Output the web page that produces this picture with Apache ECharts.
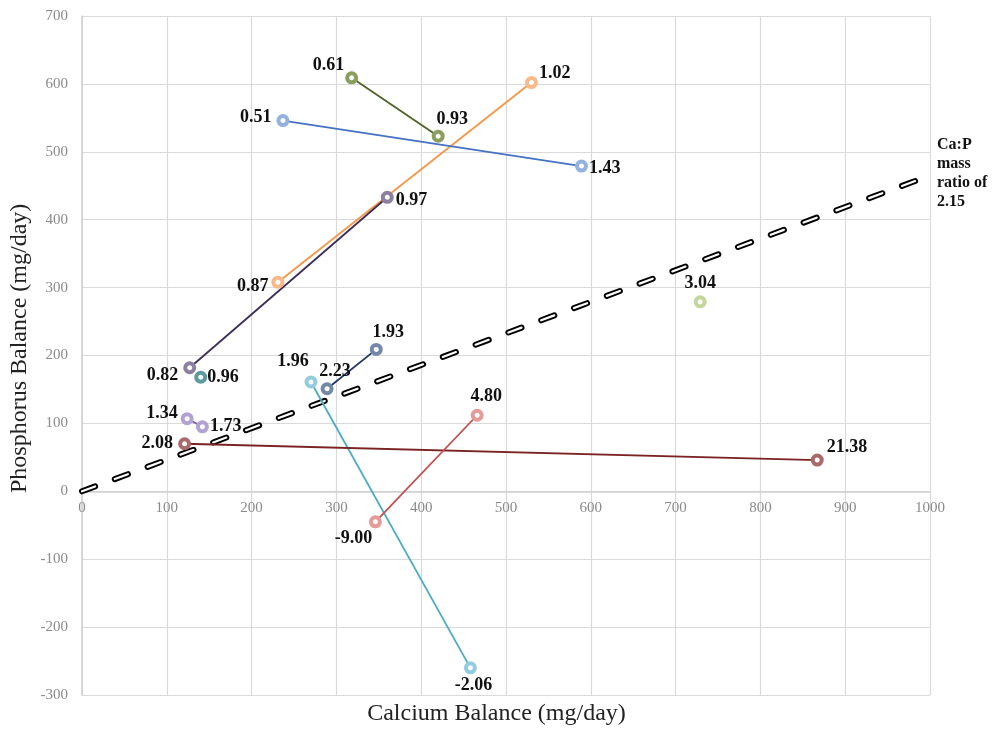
<!DOCTYPE html>
<html>
<head>
<meta charset="utf-8">
<script src="https://cdn.jsdelivr.net/npm/echarts@6/dist/echarts.min.js"></script>
<style>
  html, body { margin: 0; padding: 0; background: #fff; }
  #box { width: 993px; height: 729px; }
</style>
</head>
<body>
<div id="box"></div>
<script>
// 每个点: 钙平衡 (x), 磷平衡 (y), Ca:P 比值标签
var ratioText = ['0.61', '0.93', '1.02', '0.87', '0.51', '1.43', '0.97', '0.82', '0.96', '1.93',
                 '2.23', '1.96', '-2.06', '1.34', '1.73', '2.08', '21.38', '4.80', '-9.00', '3.04'];
var calcium = [318, 420, 530, 231, 237, 589, 360, 127, 140, 347,
               289, 270, 458, 124, 142, 121, 867, 466, 346, 729];
var phosphorus = [609, 523, 602, 308, 546, 479, 433, 182, 168, 209,
                  151, 161, -260, 107, 95, 70, 46, 112, -45, 279];
// 连线的分组 (点的下标)
var groups = [[0, 1], [2, 3], [4, 5], [6, 7], [8], [9, 10], [11, 12], [13, 14], [15, 16], [17, 18], [19]];
// Ca:P mass ratio of 2.15 参考线
var refRatio = 2.15;
var refX = [0, 1000];
var xRange = [0, 1000];
var yRange = [-300, 700];

// 样式
var lineColors = ['#4f6228', '#f79646', '#4472c4', '#3b2d58', '#5a9aa0', '#1f3864', '#4bacc6', '#7a62a8', '#7b2222', '#c0504d', '#c3d69b'];
var markColors = ['#8a9e5e', '#f9b98a', '#93b2df', '#8d7fa0', '#5a9aa0', '#7488a8', '#93cddd', '#b3a2d3', '#a86a6a', '#e69a9a', '#c3d69b'];
var labelPos = [
  ['left', [4, -12]], ['top', [14, 4]], ['right', [-4, -9]], ['left', [2, 4]], ['left', [0, -3]],
  ['right', [-4, 2]], ['right', [-3, 3]], ['left', [0, 8]], ['right', [-5, 0]], ['top', [12, 3]],
  ['top', [8, 3]], ['top', [-18, 0]], ['bottom', [3, -3]], ['left', [2, -5]], ['right', [-4, 0]],
  ['left', [0, 0]], ['right', [-2, -13]], ['top', [9, 2]], ['bottom', [-22, -4]], ['top', [0, 2]]
];

var serif = '"Liberation Serif", "Times New Roman", serif';
var gridTop = 16, gridBottom = 34, boxH = 729;
var plotH = boxH - gridTop - gridBottom;
// x 轴放在 y=0 的位置
var xAxisOffset = -plotH * (0 - yRange[0]) / (yRange[1] - yRange[0]);

var chart = echarts.init(document.getElementById('box'));

var refData = refX.map(function (x) { return [x, x / refRatio]; });
var series = [
  {
    type: 'line', data: refData, symbol: 'none', silent: true, z: 1,
    lineStyle: { color: '#000', width: 6, type: [14, 21], cap: 'round' }
  },
  {
    type: 'line', data: refData, symbol: 'none', silent: true, z: 1,
    lineStyle: { color: '#fff', width: 2.2, type: [14, 21], cap: 'round' }
  }
];

groups.forEach(function (g, k) {
  series.push({
    type: 'line',
    z: 2,
    symbol: 'circle',
    symbolSize: 9,
    lineStyle: { color: lineColors[k], width: 1.8 },
    itemStyle: { color: '#fff', borderColor: markColors[k], borderWidth: 4 },
    data: g.map(function (i) {
      return {
        value: [calcium[i], phosphorus[i]],
        label: {
          show: true,
          formatter: ratioText[i],
          position: labelPos[i][0],
          offset: labelPos[i][1],
          color: '#111',
          fontFamily: serif,
          fontWeight: 'bold',
          fontSize: 18
        }
      };
    })
  });
});

var option = {
  backgroundColor: '#fff',
  animation: false,
  grid: { left: 82, right: 63, top: gridTop, bottom: gridBottom, containLabel: false },
  xAxis: {
    type: 'value', min: xRange[0], max: xRange[1], interval: 100,
    offset: xAxisOffset,
    axisLine: { onZero: false, lineStyle: { color: '#d0d0d0', width: 1.5 } },
    axisTick: { show: false },
    axisLabel: { color: '#8a8a8a', fontFamily: serif, fontSize: 15, margin: 9,
                 formatter: function (v) { return String(v); } },
    splitLine: { lineStyle: { color: '#dadada', width: 1.2 } }
  },
  yAxis: {
    type: 'value', min: yRange[0], max: yRange[1], interval: 100,
    axisLine: { show: true, onZero: false, lineStyle: { color: '#d0d0d0', width: 1.5 } },
    axisTick: { show: false },
    axisLabel: { color: '#8a8a8a', fontFamily: serif, fontSize: 15, margin: 14 },
    splitLine: { lineStyle: { color: '#dadada', width: 1.2 } }
  },
  graphic: [
    {
      type: 'text', left: 'center', top: 702,
      style: { text: 'Calcium Balance (mg/day)', font: '24px ' + serif, fill: '#222' }
    },
    {
      type: 'text', x: 8, y: 493, rotation: Math.PI / 2,
      style: { text: 'Phosphorus Balance (mg/day)', font: '24px ' + serif, fill: '#222' }
    },
    {
      type: 'text', x: 937, y: 135,
      style: { text: 'Ca:P\nmass\nratio of\n2.15', font: 'bold 16px ' + serif, fill: '#111', lineHeight: 19 }
    }
  ],
  series: series
};
chart.setOption(option);
</script>
</body>
</html>
